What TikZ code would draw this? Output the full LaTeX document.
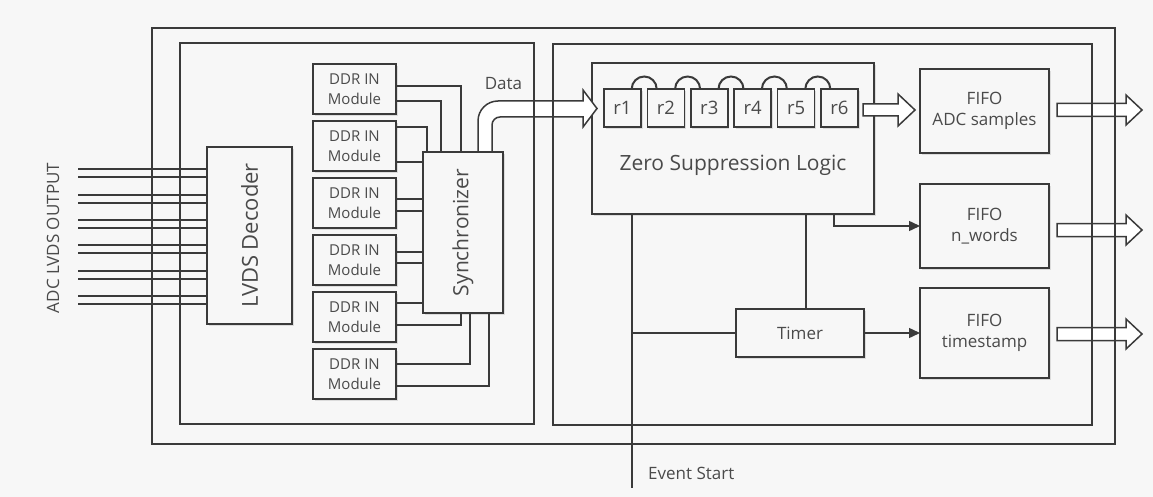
\documentclass[tikz,border=0pt]{standalone}
\usepackage{fontspec}
\usepackage{graphicx}
\setmainfont{Open Sans}
\usetikzlibrary{arrows.meta,shadows,calc}
\definecolor{bg}{HTML}{F7F7F7}
\definecolor{ln}{HTML}{3A3A3A}
\definecolor{tx}{HTML}{4A4A4A}
\begin{document}
\begin{tikzpicture}[x=1pt,y=-1pt,
  sz/.style 2 args={minimum width=#1pt, minimum height=#2pt},
  blk/.style={draw=ln, line width=1.6pt, fill=bg, inner sep=0pt, outer sep=0pt, text=tx, align=center,
     drop shadow={shadow xshift=1.5pt,shadow yshift=-2pt,opacity=.22}},
  frm/.style={draw=ln, line width=1.7pt, inner sep=0pt, outer sep=0pt},
  wire/.style={draw=ln, line width=1.4pt},
  arcln/.style={draw=ln, line width=2pt},
  hollow/.style={draw=ln, line width=1.5pt, fill=white, line join=miter},
  lbl/.style={text=tx, inner sep=0pt},
  tip/.style={-{Triangle[length=11pt,width=10pt]}},
  f15/.style={font=\fontsize{15}{20}\selectfont},
  f17/.style={font=\fontsize{17}{21}\selectfont},
  f18/.style={font=\fontsize{18.5}{20}\selectfont}
]
\fill[bg] (0,0) rectangle (1153,497);
\useasboundingbox (0,0) rectangle (1153,497);

% blocks
\node[blk,sz={85}{177}] (lvds) at (249.5,235.5) {\rotatebox{90}{\fontsize{22}{26}\selectfont LVDS Decoder}};
\foreach \i/\y in {1/89,2/146,3/203,4/260,5/317,6/374}
  \node[blk,sz={83}{50},f15] (d\i) at (354.5,\y) {DDR IN\\Module};
\node[blk,sz={80}{161}] (sync) at (463,232.5) {\rotatebox{90}{\fontsize{21}{25}\selectfont Synchronizer}};

\node[blk,sz={282}{151}] (zsl) at (733,138.5) {};
\node[lbl,font=\fontsize{21}{25}\selectfont] (zsltxt) at (733,165) {Zero Suppression Logic};
\foreach \i in {1,...,6}
  \node[blk,sz={37}{38},f18] (r\i) at ({622.5+43.4*(\i-1)},108) {r\i};
\foreach \i in {1,...,5}
  \draw[arcln] ([xshift=-9.3pt]r\i.north east) arc[start angle=180,end angle=360,radius=12.5];

\node[blk,sz={129}{84},f17] (f1) at (984.5,111) {FIFO\\ADC samples};
\node[blk,sz={129}{84},f17] (f2) at (984.5,226) {FIFO\\n\_words};
\node[blk,sz={129}{90},f17] (f3) at (984.5,333) {FIFO\\timestamp};
\node[blk,sz={128}{48},f17] (timer) at (800,333) {Timer};

% labels
\node[lbl,rotate=90,f17] (adc) at (53,238) {ADC LVDS OUTPUT};
\node[lbl,f17] (data) at (503.5,84) {Data};
\node[lbl,anchor=west,f17] (evt) at (648,473) {Event Start};

% input lines
\foreach \y in {169,177,195,203,220,228,245,253,271,279,296,304}{
  \coordinate (in\y) at (78,\y);
  \draw[wire] (in\y) -- (lvds.west |- in\y);
}

% DDR -> synchronizer
\draw[wire] (d1.east |- 0,86) -| (sync.north -| 461,0);
\draw[wire] (d1.east |- 0,101) -| (sync.north -| 441,0);
\draw[wire] (d2.east |- 0,127) -| (sync.north -| 427,0);
\foreach \k/\y in {2/162,3/199,3/211,4/252,4/263,5/303}
  \draw[wire] (d\k.east |- 0,\y) -- (sync.west |- 0,\y);
\draw[wire] (d5.east |- 0,325) -| (sync.south -| 461,0);
\draw[wire] (d6.east |- 0,364) -| (sync.south -| 470,0);
\draw[wire] (d6.east |- 0,386) -| (sync.south -| 489,0);

% Data arrow
\draw[hollow] (sync.north -| 478,0) -- (478,121) arc[start angle=180,end angle=270,radius=20]
  -- (583,101) -- (583,90) -- (597,108.5) -- (583,127) -- (583,117) -- (500,117)
  arc[start angle=270,end angle=180,radius=8] -- (sync.north -| 492,0) -- cycle;

% r6 -> FIFO
\draw[hollow] ([shift={(5,2)}]r6.east) ++(0,-6) -- ++(35,0) -- ++(0,-10) -- ++(17,16)
  -- ++(-17,16) -- ++(0,-10) -- ++(-35,0) -- cycle;

% output arrows
\foreach \k/\s in {1/-1,2/4,3/1}
  \draw[hollow] ([shift={(8,\s)}]f\k.east) ++(0,-6.5) -- ++(69,0) -- ++(0,-8.5) -- ++(16,15)
    -- ++(-16,15) -- ++(0,-8.5) -- ++(-69,0) -- cycle;

% control wires
\coordinate (es) at (632,488);
\draw[wire,tip] (zsl.south -| 834,0) |- (f2.west);
\draw[wire] (zsl.south -| 806,0) -- (timer.north -| 806,0);
\draw[wire,tip] (timer.east) -- (f3.west);
\draw[wire] (zsl.south -| es) -- (es);
\draw[wire] (timer.west) -- (timer.west -| es);

% frames
\node[frm,sz={963}{416}] (outer) at (633.5,236) {};
\node[frm,sz={354}{381}] (leftin) at (357,233.5) {};
\node[frm,sz={539}{381}] (rightin) at (822.5,234.5) {};
\end{tikzpicture}
\end{document}
